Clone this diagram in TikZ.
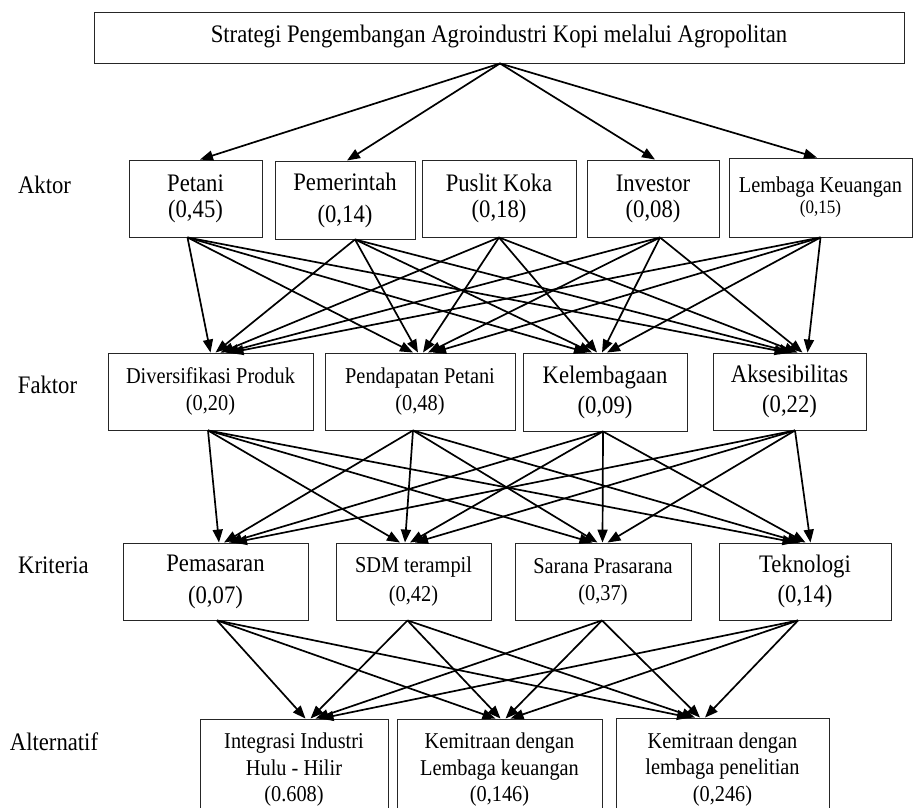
\documentclass[tikz,border=0pt]{standalone}
\usepackage{fontspec}
\setmainfont[FakeStretch=0.9]{Liberation Serif}
\usetikzlibrary{arrows.meta,calc}
\begin{document}
\begin{tikzpicture}[x=1pt,y=-1pt,
  box/.style={draw=black!85,line width=0.9pt,inner sep=0pt,align=center,anchor=center},
  bigf/.style={font=\fontsize{25.2}{#1}\selectfont},
  bigf/.default=26,
  smallf/.style={font=\fontsize{22.6}{#1}\selectfont},
  smallf/.default=27,
  lbl/.style={font=\fontsize{25.2}{26}\selectfont,inner sep=0pt,anchor=center},
  arr/.style={line width=1.7pt,-{Triangle[length=13pt,width=10pt]}},
]
\fill[white] (0,0) rectangle (920,807);
\useasboundingbox (0,0) rectangle (920,807);

% title
\node[box,bigf,minimum width=810pt,minimum height=51pt,text height=17.5pt,text depth=8.5pt] (top) at (499,37.5)
  {Strategi Pengembangan Agroindustri Kopi melalui Agropolitan};

% level labels
\node[lbl] (lA) at (44.5,185) {Aktor};
\node[lbl] (lF) at (47.5,385) {Faktor};
\node[lbl] (lK) at (53.5,565) {Kriteria};
\node[lbl] (lL) at (54,742) {Alternatif};

% aktor
\node[box,bigf=26,minimum width=133pt,minimum height=77pt] (pet) at (195.5,198.5) {Petani\\(0,45)};
\node[box,bigf=32,minimum width=140pt,minimum height=78pt] (pem) at (345,200) {Pemerintah\\(0,14)};
\node[box,bigf=26,minimum width=154pt,minimum height=77pt] (pus) at (499,198.5) {Puslit Koka\\(0,18)};
\node[box,bigf=26,minimum width=132pt,minimum height=77pt] (inv) at (653,198.5) {Investor\\(0,08)};
\node[box,smallf=21,minimum width=183pt,minimum height=79pt] (lem) at (820.5,197.5)
  {Lembaga Keuangan\\{\fontsize{19}{21}\selectfont (0,15)}};

% faktor
\node[box,smallf=27,minimum width=205pt,minimum height=77pt] (div) at (210.5,391.5) {Diversifikasi Produk\\(0,20)};
\node[box,smallf=27,minimum width=190pt,minimum height=77pt] (pen) at (420,391.5) {Pendapatan Petani\\(0,48)};
\node[box,bigf=30,minimum width=164pt,minimum height=78pt] (kel) at (605,392) {Kelembagaan\\(0,09)};
\node[box,bigf=30,minimum width=153pt,minimum height=77pt] (aks) at (789.5,391.5) {Aksesibilitas\\(0,22)};

% kriteria
\node[box,bigf=32,minimum width=185pt,minimum height=77pt] (pms) at (215.5,581.5) {Pemasaran\\(0,07)};
\node[box,smallf=29,minimum width=155pt,minimum height=77pt] (sdm) at (413.5,581.5) {SDM terampil\\(0,42)};
\node[box,smallf=27,minimum width=176pt,minimum height=77pt] (sar) at (603,581.5) {Sarana Prasarana\\(0,37)};
\node[box,bigf=30,minimum width=172pt,minimum height=77pt] (tek) at (805,581.5) {Teknologi\\(0,14)};

% alternatif
\node[box,smallf=26.5,minimum width=188pt,minimum height=102pt] (int) at (294,770) {Integrasi Industri\\Hulu - Hilir\\(0.608)};
\node[box,smallf=26.5,minimum width=205pt,minimum height=102pt] (kk) at (499.5,770) {Kemitraan dengan\\Lembaga keuangan\\(0,146)};
\node[box,smallf=26.5,minimum width=213pt,minimum height=103pt] (kp) at (722.5,769.5) {Kemitraan dengan\\lembaga penelitian\\(0,246)};

% goal -> aktor
\draw[arr] ($(top.south)+(1,0)$) -- ($(pet.north)+(4.5,0)$);
\draw[arr] ($(top.south)+(1,0)$) -- ($(pem.north)+(2,0)$);
\draw[arr] ($(top.south)+(1,0)$) -- ($(inv.north)+(2,0)$);
\draw[arr] ($(top.south)+(1,0)$) -- ($(lem.north)+(-3.5,0)$);

% aktor -> faktor
\foreach \s/\so [count=\i] in {pet/-8,pem/10,pus/0,inv/7,lem/0}
  \foreach \t/\to in {div/10,pen/3,kel/-8,aks/8}
    \draw[arr] ($(\s.south)+(\so,0)$) -- ($(\t.north)+({\to+(\i-3)*5},0)$);

% faktor -> kriteria
\foreach \s/\so [count=\i] in {div/-2.5,pen/-7,kel/-2,aks/5.5}
  \foreach \t/\to in {pms/11,sdm/-6,sar/-3,tek/-2}
    \draw[arr] ($(\s.south)+(\so,0)$) -- ($(\t.north)+({\to+(\i-2.5)*5},0)$);

% kriteria -> alternatif
\foreach \s/\so [count=\i] in {pms/1.5,sdm/-6,sar/-1,tek/-7}
  \foreach \t/\to in {int/19,kk/3.5,kp/-25}
    \draw[arr] ($(\s.south)+(\so,0)$) -- ($(\t.north)+({\to+(\i-2.5)*5},0)$);
\end{tikzpicture}
\end{document}
